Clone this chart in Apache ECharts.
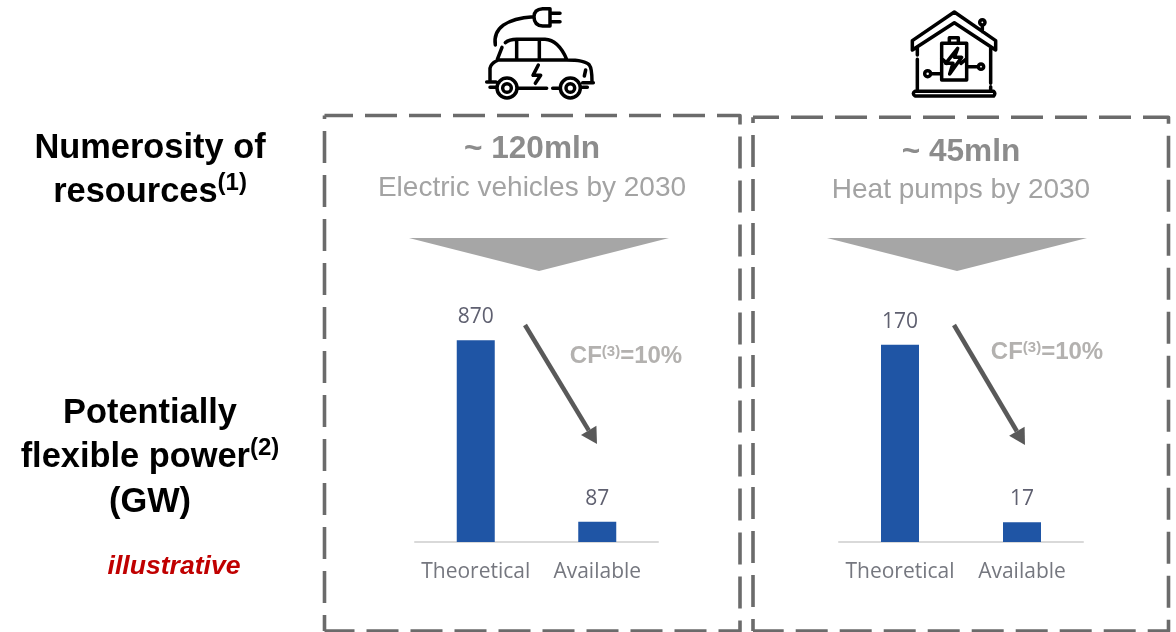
<!DOCTYPE html>
<html><head><meta charset="utf-8">
<style>html,body{margin:0;padding:0;background:#fff}#c{width:1176px;height:632px}</style>
<script src="https://cdn.jsdelivr.net/npm/echarts@6/dist/echarts.min.js"></script>
</head><body><div id="c"></div>
<script>
const categories = ['Theoretical', 'Available'];
const evValues = [870, 87];
const hpValues = [170, 17];
const evMax = 1000;
const hpMax = 200;

const SANS = '"Liberation Sans", Arial, sans-serif';
const CHART_FONT = '"Open Sans", sans-serif';

function text(x, y, str, opts) {
  return { type: 'text', x, y, silent: true, style: Object.assign({
    text: str, align: 'center', verticalAlign: 'middle', fontFamily: SANS
  }, opts) };
}
function headRich(size) {
  return {
    m: { fontFamily: SANS, fontWeight: 'bold', fontSize: size, fill: '#000', lineHeight: 44.5, verticalAlign: 'middle' },
    s: { fontFamily: SANS, fontWeight: 'bold', fontSize: 24, fill: '#000', lineHeight: 44.5, verticalAlign: 'top', padding: [1, 0, 0, 0] }
  };
}
function dashed(points, offset) {
  return { type: 'polyline', silent: true, shape: { points },
    style: { fill: 'none', stroke: '#6b6b6b', lineWidth: 3.6, lineDash: [32, 12], lineDashOffset: offset, lineJoin: 'round', lineCap: 'butt' } };
}
function box(l, t, r, b, topOffset, leftOffset) {
  return [
    dashed([[l, t], [r, t], [r, b], [l, b]], topOffset),
    dashed([[l, b], [l, t]], leftOffset)
  ];
}
function tri(x1, x2, y1, y2) {
  return { type: 'polygon', silent: true, shape: { points: [[x1, y1], [x2, y1], [(x1 + x2) / 2, y2]] },
    style: { fill: '#a6a6a6' } };
}
function arrow(x1, y1, x2, y2) {
  const a = Math.atan2(y2 - y1, x2 - x1), L = 16, W = 9;
  const bx = x2 - L * Math.cos(a), by = y2 - L * Math.sin(a);
  const nx = -Math.sin(a), ny = Math.cos(a);
  return [
    { type: 'line', silent: true, shape: { x1, y1, x2: bx, y2: by }, style: { stroke: '#595959', lineWidth: 4.5 } },
    { type: 'polygon', silent: true, shape: { points: [[x2, y2], [bx + nx * W, by + ny * W], [bx - nx * W, by - ny * W]] }, style: { fill: '#595959' } }
  ];
}
function cf(x, y) {
  return { type: 'text', x, y, silent: true, style: {
    text: '{a|CF}{b|(3)}{a|=10%}', align: 'center', verticalAlign: 'middle',
    rich: {
      a: { fontFamily: SANS, fontWeight: 'bold', fontSize: 24, fill: '#b3b1af', verticalAlign: 'middle' },
      b: { fontFamily: SANS, fontWeight: 'bold', fontSize: 15, fill: '#b3b1af', verticalAlign: 'top' }
    } } };
}
function circ(x, y, r) {
  return `M${x - r} ${y}A${r} ${r} 0 1 0 ${x + r} ${y}A${r} ${r} 0 1 0 ${x - r} ${y}Z`;
}
const carPath = [
  'M60 240L60 205Q62 190 85 180L290 180Q345 180 358 195Q366 205 366 245',
  'M50 246L78 246M148 265L230 265M248 265L264 265M338 248L370 248M60 262L76 262M338 262L352 262',
  'M82 178L96 142M106 128Q118 118 140 118L225 118Q265 120 290 178',
  'M140 118L140 178M208 118L208 178',
  'M205 195L189 226L212 226L196 250',
  'M76 135C68 85 110 55 190 50',
  'M240 26L218 26Q192 28 192 50Q192 76 218 78L240 78Z',
  'M240 40L270 40M240 65L270 65',
  'M347 210L343 228',
  circ(111, 264, 30), circ(111, 264, 13), circ(301, 264, 30), circ(301, 264, 13)
].join('');
const housePath = [
  'M52 122L178 36L302 122L302 150L178 68L52 150Z',
  'M67 145L67 165M67 178L67 270M287 145L287 250M287 260L287 270',
  'M60 274L296 274Q303 280 296 288L60 288Q50 280 60 274Z',
  'M262 76L262 95', circ(262, 67, 8),
  'M140 130L215 130L215 240L140 240Z', 'M163 130L163 113L190 113L190 130',
  'M188 145L152 190L174 190L164 222L200 172L178 172Z',
  'M140 176L156 190M215 176L198 190',
  'M107 221L140 221', circ(98, 221, 9),
  'M215 200L250 200', circ(258, 200, 8)
].join('');
echarts.graphic.registerShape('carIcon', echarts.graphic.extendPath(carPath, {}));
echarts.graphic.registerShape('houseIcon', echarts.graphic.extendPath(housePath, {}));
function icon(type, x, y) {
  return { type, silent: true, x, y, scaleX: 1 / 3, scaleY: 1 / 3,
    style: { fill: 'none', stroke: '#000', lineWidth: 10.5, lineCap: 'round', lineJoin: 'round' } };
}

function makeGrid(left, right) {
  return { left, width: right - left, top: 310, height: 232 };
}
function xAxis(i) {
  return { type: 'category', gridIndex: i, data: categories,
    axisLine: { lineStyle: { color: '#d9d9d9', width: 2 } }, axisTick: { show: false },
    axisLabel: { color: '#75777f', fontFamily: CHART_FONT, fontSize: 21, margin: 20, interval: 0 } };
}
function yAxis(i, max) {
  return { type: 'value', gridIndex: i, min: 0, max, show: false, splitLine: { show: false } };
}
function bars(i, data) {
  return { type: 'bar', xAxisIndex: i, yAxisIndex: i, data, barWidth: 38, animation: false, silent: true,
    itemStyle: { color: '#1f55a5' },
    label: { show: true, position: 'top', distance: 12.5, color: '#5f6070', fontFamily: CHART_FONT, fontSize: 21 } };
}

const chart = echarts.init(document.getElementById('c'), null, { renderer: 'canvas' });
chart.setOption({
  backgroundColor: '#fff', animation: false,
  grid: [makeGrid(415, 658), makeGrid(839, 1083)],
  xAxis: [xAxis(0), xAxis(1)],
  yAxis: [yAxis(0, evMax), yAxis(1, hpMax)],
  series: [bars(0, evValues), bars(1, hpValues)],
  graphic: { elements: [
    ...box(324.5, 115.5, 740, 631, 3.5, 16),
    ...box(753, 117.3, 1168.5, 631, 6, 20),
    text(150, 170.5, '{m|Numerosity of}\n{m|resources}{s|(1)}', { rich: headRich(34.4) }),
    text(150, 458, '{m|Potentially}\n{m|flexible power}{s|(2)}\n{m|(GW)}', { rich: headRich(34.4) }),
    text(174, 567, 'illustrative', { fontWeight: 'bold', fontStyle: 'italic', fontSize: 26.6, fill: '#c00000' }),
    text(532, 149, '~ 120mln', { fontWeight: 'bold', fontSize: 31.6, fill: '#8c8c8c' }),
    text(532, 188, 'Electric vehicles by 2030', { fontSize: 28, fill: '#a3a3a3' }),
    text(961, 152, '~ 45mln', { fontWeight: 'bold', fontSize: 31.6, fill: '#8c8c8c' }),
    text(961, 190, 'Heat pumps by 2030', { fontSize: 28, fill: '#a3a3a3' }),
    tri(409, 669, 238, 271), tri(827, 1087, 238, 271),
    ...arrow(525, 325, 597, 444), ...arrow(954, 325, 1025, 445),
    cf(626, 356), cf(1047, 352),
    icon('carIcon', 470, 0), icon('houseIcon', 895, 0)
  ] }
});
</script></body></html>
